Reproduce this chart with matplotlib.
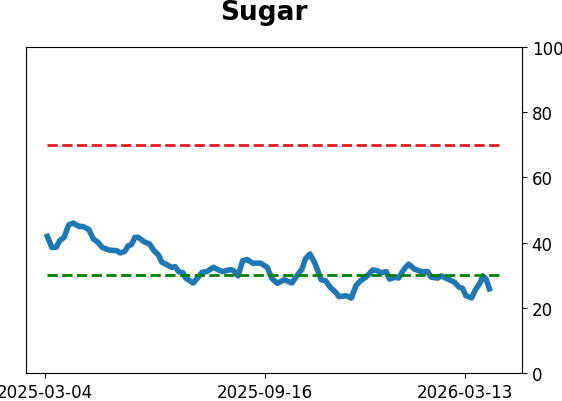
import matplotlib
matplotlib.use("Agg")
import matplotlib.pyplot as plt
import pandas as pd

title = "Sugar"

dates = [
    "2025-03-06", "2025-03-10", "2025-03-14", "2025-03-17", "2025-03-21", "2025-03-25",
    "2025-03-29", "2025-04-03", "2025-04-07", "2025-04-12", "2025-04-16", "2025-04-20",
    "2025-04-24", "2025-04-30", "2025-05-07", "2025-05-10", "2025-05-14", "2025-05-17",
    "2025-05-20", "2025-05-23", "2025-05-26", "2025-05-31", "2025-06-05", "2025-06-09",
    "2025-06-13", "2025-06-16", "2025-06-21", "2025-06-25", "2025-06-28", "2025-07-01",
    "2025-07-05", "2025-07-07", "2025-07-14", "2025-07-17", "2025-07-22", "2025-07-26",
    "2025-08-01", "2025-08-04", "2025-08-09", "2025-08-16", "2025-08-19", "2025-08-23",
    "2025-08-27", "2025-08-31", "2025-09-05", "2025-09-12", "2025-09-18", "2025-09-22",
    "2025-09-27", "2025-10-03", "2025-10-10", "2025-10-15", "2025-10-19", "2025-10-22",
    "2025-10-26", "2025-10-30", "2025-11-02", "2025-11-05", "2025-11-09", "2025-11-13",
    "2025-11-18", "2025-11-21", "2025-11-27", "2025-12-02", "2025-12-06", "2025-12-10",
    "2025-12-15", "2025-12-21", "2025-12-25", "2025-12-28", "2026-01-02", "2026-01-05",
    "2026-01-10", "2026-01-13", "2026-01-18", "2026-01-22", "2026-01-27", "2026-02-02",
    "2026-02-08", "2026-02-11", "2026-02-17", "2026-02-20", "2026-02-26", "2026-03-04",
    "2026-03-08", "2026-03-11", "2026-03-14", "2026-03-19", "2026-03-23", "2026-03-27",
    "2026-03-29", "2026-04-01", "2026-04-04",
]
values = [
    41.9, 38.5, 38.6, 40.6, 41.6, 45.4,
    46.0, 45.0, 44.9, 44.0, 41.1, 40.1,
    38.5, 37.7, 37.5, 36.8, 37.3, 39.0,
    39.4, 41.6, 41.6, 40.3, 39.6, 37.5,
    36.2, 34.0, 33.1, 32.4, 32.6, 31.1,
    30.7, 29.2, 27.6, 28.8, 30.9, 31.1,
    32.4, 31.9, 31.1, 31.7, 31.4, 29.8,
    34.4, 34.8, 33.7, 33.7, 32.4, 29.0,
    27.5, 28.6, 27.6, 30.1, 31.9, 35.0,
    36.5, 34.0, 31.4, 28.6, 28.3, 26.3,
    24.7, 23.4, 23.7, 23.0, 26.8, 28.3,
    29.4, 31.6, 31.4, 30.7, 31.1, 28.8,
    29.4, 29.1, 31.9, 33.4, 31.9, 31.1,
    31.1, 29.4, 29.1, 29.8, 28.8, 27.8,
    26.3, 26.0, 23.7, 23.0, 25.8, 27.8,
    29.8, 28.8, 25.8,
]

upper_level = 70
lower_level = 30
band_start = "2025-03-06"
band_end = "2026-04-14"
tick_dates = ["2025-03-04", "2025-09-16", "2026-03-13"]
x_limits = ["2025-02-15", "2026-05-03"]

x = pd.to_datetime(dates)

fig = plt.figure(figsize=(5.62, 4.02), dpi=100)
ax = fig.add_axes([0.0463, 0.0697, 0.8825, 0.811])

ax.plot(x, values, color="#1f77b4", linewidth=4)
ax.hlines([upper_level], pd.Timestamp(band_start), pd.Timestamp(band_end),
          colors="#e41a1c", linestyles="--", linewidth=2)
ax.hlines([lower_level], pd.Timestamp(band_start), pd.Timestamp(band_end),
          colors="green", linestyles="--", linewidth=2)

ax.set_ylim(0, 100)
ax.set_xlim(pd.Timestamp(x_limits[0]), pd.Timestamp(x_limits[1]))
ax.yaxis.tick_right()
ax.set_yticks([0, 20, 40, 60, 80, 100])
ax.set_xticks(pd.to_datetime(tick_dates))
ax.set_xticklabels(tick_dates)
ax.tick_params(labelsize=12)
fig.text(0.47, 0.968, title, fontsize=19, fontweight="bold", ha="center", va="center")

fig.savefig("out.png", dpi=100)
